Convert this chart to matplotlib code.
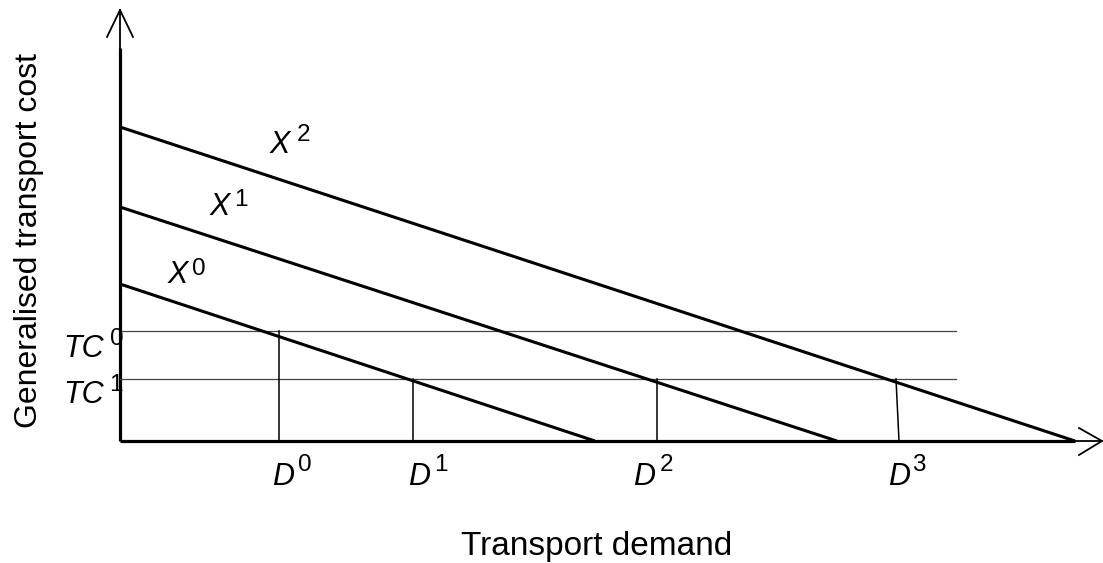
import matplotlib.pyplot as plt

plt.rcParams['font.family'] = ['Liberation Sans', 'DejaVu Sans']

# demand curves: cost intercept and demand intercept
cost_intercepts = [1.57, 2.34, 3.14]
demand_intercepts = [4.75, 7.17, 9.55]

# transport cost levels
tc_levels = [1.10, 0.62]
tc_end = 8.36

# demand points (x at bottom, x at top, cost level)
d_bottom = [1.59, 2.93, 5.37, 7.79]
d_top = [1.59, 2.93, 5.37, 7.76]
d_cost = [1.10, 0.62, 0.62, 0.62]

# labels: base letter (x, baseline) and superscript (x, baseline)
base_text = ['X', 'X', 'X', 'TC', 'TC', 'D', 'D', 'D', 'D']
sup_text = ['0', '1', '2', '0', '1', '0', '1', '2', '3']
base_x = [0.48, 0.90, 1.50, -0.57, -0.57, 1.52, 2.88, 5.13, 7.68]
base_y = [1.58, 2.26, 2.88, 0.84, 0.38, -0.44, -0.44, -0.44, -0.44]
sup_x = [0.72, 1.14, 1.77, -0.10, -0.11, 1.78, 3.14, 5.40, 7.92]
sup_y = [1.66, 2.35, 3.00, 0.96, 0.50, -0.30, -0.30, -0.30, -0.30]

fig = plt.figure(figsize=(11.03, 5.63), dpi=100)
ax = fig.add_axes([0, 0, 1, 1])
ax.set_xlim(-1.20, 9.83)
ax.set_ylim(-1.22, 4.41)
ax.axis('off')

# axes with open arrow heads
ax.plot([0, 0], [0, 3.93], color='black', lw=2.3, solid_capstyle='butt')
ax.plot([0, 0], [3.9, 4.31], color='black', lw=1.3)
ax.plot([-0.13, 0, 0.13], [4.04, 4.31, 4.04], color='black', lw=1.3)
ax.plot([0, 9.55], [0, 0], color='black', lw=2.3, solid_capstyle='butt')
ax.plot([9.5, 9.82], [0, 0], color='black', lw=1.3)
ax.plot([9.59, 9.82, 9.59], [0.13, 0, -0.14], color='black', lw=1.3)

# TC lines
for lvl in tc_levels:
    ax.plot([0, tc_end], [lvl, lvl], color='#444444', lw=0.9)

# D verticals
for xb, xt, c in zip(d_bottom, d_top, d_cost):
    ax.plot([xb, xt], [0, c], color='black', lw=1.1)

# demand curves
for a, b in zip(cost_intercepts, demand_intercepts):
    ax.plot([0, b], [a, 0], color='black', lw=2.2, solid_capstyle='butt')

for t, x, y in zip(base_text, base_x, base_y):
    ax.text(x, y, t, fontsize=22, style='italic', ha='left', va='baseline')
for t, x, y in zip(sup_text, sup_x, sup_y):
    ax.text(x, y, t, fontsize=17.5, ha='left', va='baseline')

ax.text(-0.905, 2.01, 'Generalised transport cost', fontsize=23,
        rotation=90, ha='center', va='center')
ax.text(4.77, -1.05, 'Transport demand', fontsize=24, ha='center', va='center')

fig.savefig('out.png', dpi=100)
